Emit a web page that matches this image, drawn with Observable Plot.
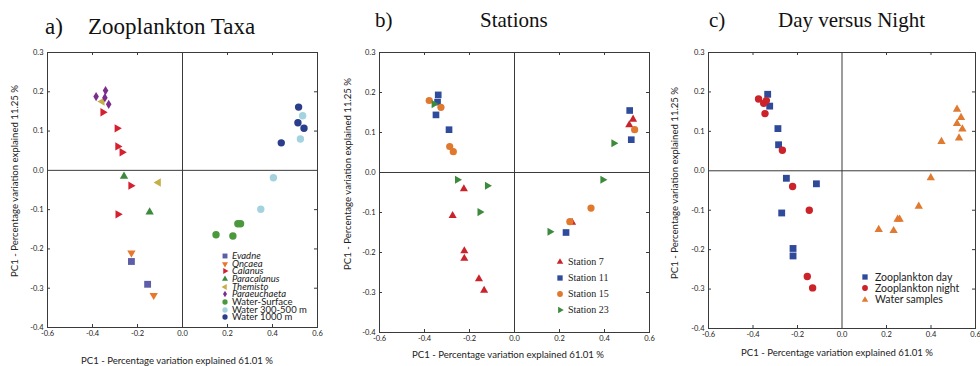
<!DOCTYPE html>
<html><head><meta charset="utf-8">
<script src="https://cdn.jsdelivr.net/npm/d3@7"></script>
<script src="https://cdn.jsdelivr.net/npm/@observablehq/plot@0.6"></script>
<style>
body{margin:0;background:#fff;width:980px;height:366px;overflow:hidden;position:relative;font-family:Lato,"Open Sans",sans-serif;}
.panel{position:absolute;top:0;}
.title{position:absolute;font-family:"Liberation Serif","Times New Roman",serif;color:#111;white-space:nowrap;line-height:1;}
.lab{position:absolute;font-size:9.6px;color:#222;white-space:nowrap;text-align:center;line-height:12px;height:12px;}
.row{position:absolute;white-space:nowrap;color:#222;}
.row svg{position:absolute;overflow:visible;}
</style></head><body>
<script>
// ---------- shared axis data ----------
const xTicks = [-0.6, -0.4, -0.2, 0.0, 0.2, 0.4, 0.6];
const yTicks = [-0.4, -0.3, -0.2, -0.1, 0.0, 0.1, 0.2, 0.3];
const innerXTicks = [-0.4, -0.2, 0.2, 0.4];
const innerYTicks = [-0.3, -0.2, -0.1, 0.1, 0.2];
const xLabel = "PC1 - Percentage variation explained 61.01 %";
const yLabel = "PC1 - Percentage variation explained 11.25 %";

// ---------- panel a: Zooplankton Taxa ----------
const taxaNames = ["Evadne", "Oncaea", "Calanus", "Paracalanus", "Themisto", "Paraeuchaeta", "Water-Surface", "Water 300-500 m", "Water 1000 m"];
const evadne = [[-0.227, -0.232], [-0.155, -0.290]];
const oncaea = [[-0.227, -0.210], [-0.128, -0.318]];
const calanus = [[-0.354, 0.148], [-0.291, 0.107], [-0.288, 0.061], [-0.269, 0.046], [-0.230, -0.039], [-0.287, -0.112]];
const paracalanus = [[-0.260, -0.015], [-0.146, -0.106]];
const themisto = [[-0.357, 0.175], [-0.107, -0.031]];
const paraeuchaeta = [[-0.384, 0.188], [-0.342, 0.203], [-0.345, 0.185], [-0.328, 0.168]];
const waterSurface = [[0.149, -0.164], [0.224, -0.167], [0.246, -0.136], [0.258, -0.136]];
const water300 = [[0.404, -0.019], [0.348, -0.099], [0.534, 0.139], [0.524, 0.080]];
const water1000 = [[0.516, 0.161], [0.513, 0.121], [0.540, 0.107], [0.439, 0.070]];

// ---------- panel b: Stations ----------
const stationNames = ["Station 7", "Station 11", "Station 15", "Station 23"];
const station7 = [[-0.225, -0.041], [-0.275, -0.108], [-0.223, -0.196], [-0.223, -0.215], [-0.158, -0.266], [-0.135, -0.295], [0.256, -0.125], [0.510, 0.119], [0.527, 0.133]];
const station11 = [[-0.339, 0.194], [-0.342, 0.176], [-0.349, 0.144], [-0.291, 0.107], [0.229, -0.150], [0.512, 0.155], [0.519, 0.082]];
const station15 = [[-0.379, 0.180], [-0.327, 0.163], [-0.288, 0.065], [-0.272, 0.052], [0.246, -0.123], [0.340, -0.089], [0.534, 0.107]];
const station23 = [[-0.358, 0.171], [-0.254, -0.018], [-0.121, -0.033], [-0.154, -0.099], [0.157, -0.148], [0.392, -0.018], [0.441, 0.073]];

// ---------- panel c: Day versus Night ----------
const dnNames = ["Zooplankton day", "Zooplankton night", "Water samples"];
const zooDay = [[-0.334, 0.194], [-0.325, 0.164], [-0.288, 0.107], [-0.285, 0.066], [-0.250, -0.019], [-0.115, -0.033], [-0.271, -0.107], [-0.220, -0.197], [-0.220, -0.216]];
const zooNight = [[-0.375, 0.182], [-0.352, 0.171], [-0.340, 0.178], [-0.346, 0.145], [-0.268, 0.052], [-0.222, -0.040], [-0.147, -0.100], [-0.156, -0.268], [-0.132, -0.297]];
const waterSamples = [[0.517, 0.156], [0.535, 0.135], [0.517, 0.120], [0.541, 0.106], [0.526, 0.083], [0.447, 0.074], [0.399, -0.018], [0.345, -0.090], [0.250, -0.123], [0.259, -0.123], [0.165, -0.149], [0.232, -0.152]];

// ---------- symbols ----------
function tri(angle) {
  return {draw(ctx, size) {
    const r = Math.sqrt(size / Math.PI) * 1.3;
    for (let i = 0; i < 3; i++) {
      const a = angle + i * 2 * Math.PI / 3;
      const x = r * Math.cos(a), y = r * Math.sin(a);
      if (i) ctx.lineTo(x, y); else ctx.moveTo(x, y);
    }
    ctx.closePath();
  }};
}
const symUp = tri(-Math.PI / 2), symDown = tri(Math.PI / 2), symRight = tri(0), symLeft = tri(Math.PI);
const symSquare = {draw(ctx, size) { const s = Math.sqrt(size / Math.PI) * 1.85; ctx.rect(-s / 2, -s / 2, s, s); }};
const symCircle = {draw(ctx, size) { const r = Math.sqrt(size / Math.PI); ctx.moveTo(r, 0); ctx.arc(0, 0, r, 0, 2 * Math.PI); }};
const symDiamond = {draw(ctx, size) { const r = Math.sqrt(size / Math.PI); ctx.moveTo(0, -r * 1.25); ctx.lineTo(r * 0.75, 0); ctx.lineTo(0, r * 1.25); ctx.lineTo(-r * 0.75, 0); ctx.closePath(); }};

const seriesA = [
  {data: evadne, symbol: symSquare, color: "#5c5ea8"},
  {data: oncaea, symbol: symDown, color: "#e8762c"},
  {data: calanus, symbol: symRight, color: "#d4202f"},
  {data: paracalanus, symbol: symUp, color: "#3d8a3c"},
  {data: themisto, symbol: symLeft, color: "#c6ae48"},
  {data: paraeuchaeta, symbol: symDiamond, color: "#7b2c8e"},
  {data: waterSurface, symbol: symCircle, color: "#4b983d"},
  {data: water300, symbol: symCircle, color: "#a4d3df"},
  {data: water1000, symbol: symCircle, color: "#2b3e8c"}
];
const seriesB = [
  {data: station7, symbol: symUp, color: "#c9242c"},
  {data: station11, symbol: symSquare, color: "#2f4b9b"},
  {data: station15, symbol: symCircle, color: "#e0782e"},
  {data: station23, symbol: symRight, color: "#3c8a3c"}
];
const seriesC = [
  {data: zooDay, symbol: symSquare, color: "#2f4a99"},
  {data: zooNight, symbol: symCircle, color: "#cc2229"},
  {data: waterSamples, symbol: symUp, color: "#e07a30"}
];

const ink = "#3a3a3a";
function panel({left, width, mL, mR, mT, mB, series, r}) {
  const H = 366;
  const fw = width - mL - mR, fh = H - mT - mB;
  const marks = [
    Plot.ruleX([0], {stroke: ink}),
    Plot.ruleY([0], {stroke: ink}),
    Plot.ruleX(innerXTicks, {stroke: ink, insetBottom: fh - 3}),
    Plot.ruleX(innerXTicks, {stroke: ink, insetTop: fh - 3}),
    Plot.ruleY(innerYTicks, {stroke: ink, insetRight: fw - 3}),
    Plot.ruleY(innerYTicks, {stroke: ink, insetLeft: fw - 3}),
    Plot.frame({stroke: ink}),
    Plot.axisX(xTicks, {tickSize: 0, tickPadding: 3, tickFormat: d => d.toFixed(1), label: null, fill: "#222"}),
    Plot.axisY(yTicks, {tickSize: 0, tickPadding: 4, tickFormat: d => d.toFixed(1), label: null, fill: "#222"}),
    ...series.map(s => Plot.dot(s.data, {x: d => d[0], y: d => d[1], symbol: s.symbol, fill: s.color, stroke: "none", r}))
  ];
  const svg = Plot.plot({
    width, height: H, marginLeft: mL, marginRight: mR, marginTop: mT, marginBottom: mB,
    x: {domain: [-0.6, 0.6]}, y: {domain: [-0.4, 0.3]},
    style: {fontFamily: "Lato, 'Open Sans', sans-serif", fontSize: "7.5px", background: "transparent", overflow: "visible"},
    marks
  });
  const div = document.createElement("div");
  div.className = "panel";
  div.style.left = left + "px";
  div.appendChild(svg);
  document.body.appendChild(div);
}

function addText(cls, text, css) {
  const d = document.createElement("div");
  d.className = cls;
  d.textContent = text;
  Object.assign(d.style, css);
  document.body.appendChild(d);
  return d;
}
function xLab(cx, cy) { addText("lab", xLabel, {left: (cx - 150) + "px", top: (cy - 6) + "px", width: "300px"}); }
function yLab(cx, cy) { addText("lab", yLabel, {left: (cx - 150) + "px", top: (cy - 6) + "px", width: "300px", transform: "rotate(-90deg)"}); }

function legend(names, series, {x, textX, y0, dy, font, size, italic, symSize, lh}) {
  names.forEach((name, i) => {
    const cy = y0 + i * dy;
    const row = document.createElement("div");
    row.className = "row";
    row.style.left = "0px";
    row.style.top = (cy - lh / 2) + "px";
    row.style.height = lh + "px";
    row.style.width = "1px";
    const svg = d3.create("svg").attr("width", 1).attr("height", 1)
      .style("left", x + "px").style("top", (lh / 2) + "px");
    svg.append("path").attr("d", d3.symbol(series[i].symbol, symSize)()).attr("fill", series[i].color);
    row.appendChild(svg.node());
    const t = document.createElement("span");
    t.textContent = name;
    Object.assign(t.style, {position: "absolute", left: textX + "px", top: "0px", lineHeight: lh + "px", fontSize: size + "px", fontFamily: font, fontStyle: italic && italic(i) ? "italic" : "normal"});
    row.appendChild(t);
    document.body.appendChild(row);
  });
}

// panels
panel({left: 0, width: 330, mL: 47, mR: 13, mT: 52, mB: 39, series: seriesA, r: 3.7});
panel({left: 330, width: 330, mL: 49, mR: 11, mT: 52, mB: 34, series: seriesB, r: 3.6});
panel({left: 660, width: 320, mL: 48, mR: 5, mT: 52, mB: 38, series: seriesC, r: 3.7});

// titles
addText("title", "a)", {left: "45px", top: "15px", fontSize: "23px"});
addText("title", "Zooplankton Taxa", {left: "88px", top: "15px", fontSize: "23px"});
addText("title", "b)", {left: "375px", top: "10px", fontSize: "21px"});
addText("title", "Stations", {left: "480px", top: "10px", fontSize: "21px"});
addText("title", "c)", {left: "709px", top: "10px", fontSize: "21px"});
addText("title", "Day versus Night", {left: "778px", top: "10px", fontSize: "21px"});

// axis labels
xLab(177, 361); yLab(15, 181);
xLab(508, 355); yLab(348, 174);
xLab(837, 353); yLab(675, 183);

// legends
legend(taxaNames, seriesA, {x: 225, textX: 232, y0: 256, dy: 7.65, font: "Lato, sans-serif", size: 9.5, italic: i => i < 6, symSize: 22, lh: 8});
legend(stationNames, seriesB, {x: 560, textX: 568, y0: 261.5, dy: 16.2, font: "'Liberation Serif', serif", size: 10, symSize: 26, lh: 12});
legend(dnNames, seriesC, {x: 865, textX: 875, y0: 277, dy: 11.3, font: "Lato, sans-serif", size: 10.5, symSize: 26, lh: 11});
</script>
</body></html>
